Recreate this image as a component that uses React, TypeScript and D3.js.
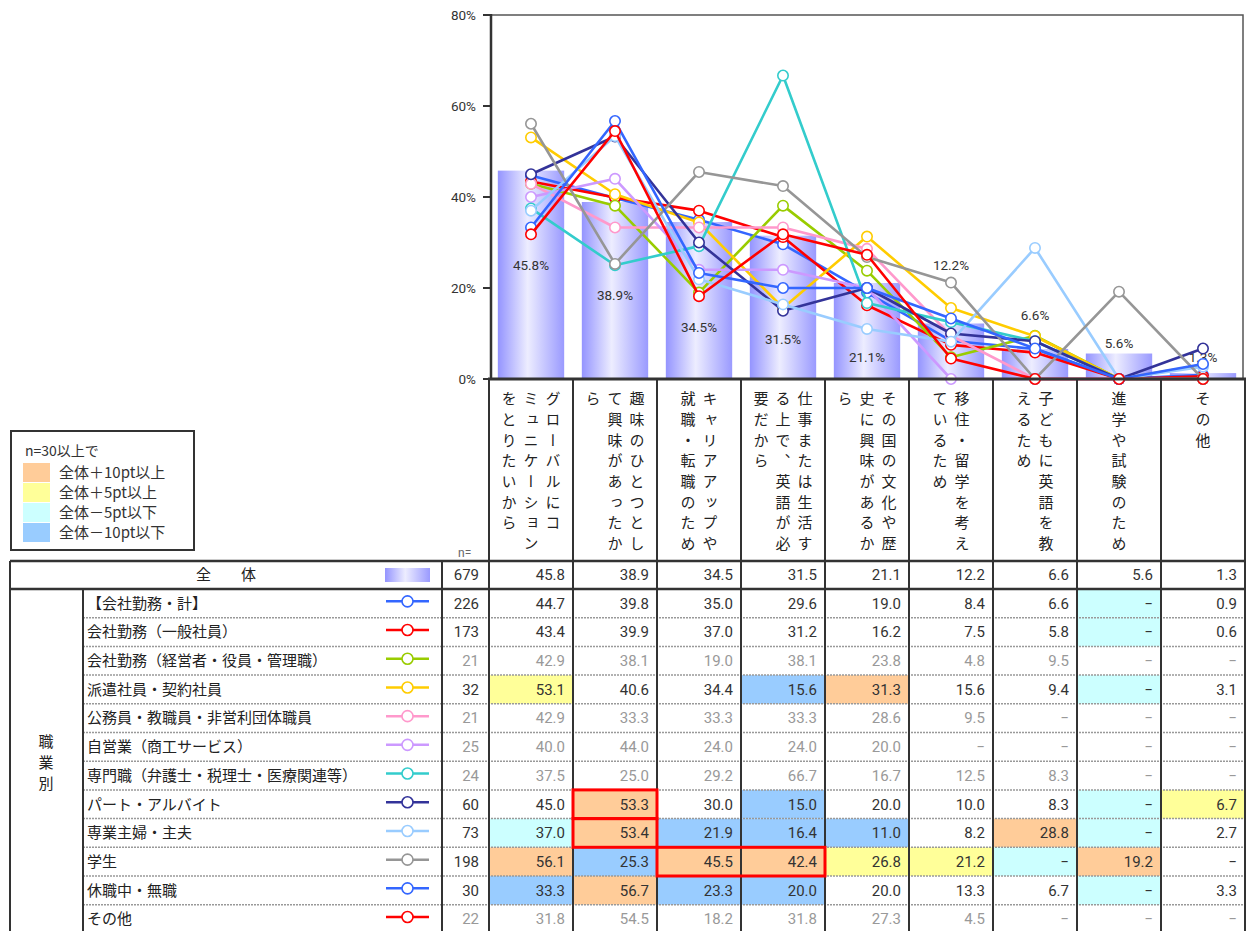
import React, { useEffect, useRef } from "react";
import * as d3 from "d3";

// categories (columns), each written vertically: columns listed right-to-left
const categoryLines = [
  ["グローバルにコ", "ミュニケーション", "をとりたいから"],
  ["趣味のひとつとし", "て興味があったか", "ら"],
  ["キャリアアップや", "就職・転職のため"],
  ["仕事または生活す", "る上で、英語が必", "要だから"],
  ["その国の文化や歴", "史に興味があるか", "ら"],
  ["移住・留学を考え", "ているため"],
  ["子どもに英語を教", "えるため"],
  ["進学や試験のため"],
  ["その他"],
];

const totalLabel = "全　　体";
const totalN = 679;
const totalValues = [45.8, 38.9, 34.5, 31.5, 21.1, 12.2, 6.6, 5.6, 1.3];

const groupNames = [
  "【会社勤務・計】",
  "会社勤務（一般社員）",
  "会社勤務（経営者・役員・管理職）",
  "派遣社員・契約社員",
  "公務員・教職員・非営利団体職員",
  "自営業（商工サービス）",
  "専門職（弁護士・税理士・医療関連等）",
  "パート・アルバイト",
  "専業主婦・主夫",
  "学生",
  "休職中・無職",
  "その他",
];
const groupN = [226, 173, 21, 32, 21, 25, 24, 60, 73, 198, 30, 22];
const groupColors = [
  "#3366ff", "#ff0000", "#99cc00", "#ffcc00", "#ff99cc", "#cc99ff",
  "#33cccc", "#333399", "#99ccff", "#969696", "#3366ff", "#ff0000",
];
const groupValues = [
  [44.7, 39.8, 35.0, 29.6, 19.0, 8.4, 6.6, 0, 0.9],
  [43.4, 39.9, 37.0, 31.2, 16.2, 7.5, 5.8, 0, 0.6],
  [42.9, 38.1, 19.0, 38.1, 23.8, 4.8, 9.5, 0, 0],
  [53.1, 40.6, 34.4, 15.6, 31.3, 15.6, 9.4, 0, 3.1],
  [42.9, 33.3, 33.3, 33.3, 28.6, 9.5, 0, 0, 0],
  [40.0, 44.0, 24.0, 24.0, 20.0, 0, 0, 0, 0],
  [37.5, 25.0, 29.2, 66.7, 16.7, 12.5, 8.3, 0, 0],
  [45.0, 53.3, 30.0, 15.0, 20.0, 10.0, 8.3, 0, 6.7],
  [37.0, 53.4, 21.9, 16.4, 11.0, 8.2, 28.8, 0, 2.7],
  [56.1, 25.3, 45.5, 42.4, 26.8, 21.2, 0, 19.2, 0],
  [33.3, 56.7, 23.3, 20.0, 20.0, 13.3, 6.7, 0, 3.3],
  [31.8, 54.5, 18.2, 31.8, 27.3, 4.5, 0, 0, 0],
];
const sectionLabel = "職業別";

const yTicks = [0, 20, 40, 60, 80];

const legendTitle = "n=30以上で";
const legendItems = ["全体＋10pt以上", "全体＋5pt以上", "全体－5pt以下", "全体－10pt以下"];
const legendColors = ["#ffcc99", "#ffff99", "#ccffff", "#99ccff"];

// red outlined cells: row index, column index, number of columns
const boxedCells = [
  { row: 7, col: 1, span: 1 },
  { row: 8, col: 1, span: 1 },
  { row: 9, col: 2, span: 2 },
];

// height (in % units) where each bar label sits
const barLabelAt = [25, 18.3, 11.4, 8.8, 4.8, 25, 14, 7.9, 4.8];

const JP = "'Noto Sans CJK JP', 'Noto Sans', sans-serif";
const NUM = "Roboto, 'Liberation Sans', sans-serif";

function App() {
  const ref = useRef(null);

  useEffect(() => {
    const svg = d3.select(ref.current);
    svg.selectAll("*").remove();

    const left = 489, right = 1245;
    const x = d3.scaleBand().domain(d3.range(9)).range([left, right]).paddingInner(0.21).paddingOuter(0.105);
    const colX = d3.scaleLinear().domain([0, 9]).range([left, right]);
    const y = d3.scaleLinear().domain([0, 80]).range([379, 15]);
    const cx = (i) => x(i) + x.bandwidth() / 2;

    const defs = svg.append("defs");
    const grad = defs.append("linearGradient").attr("id", "barGrad").attr("x1", "0").attr("x2", "1").attr("y1", "0").attr("y2", "0");
    grad.append("stop").attr("offset", "0").attr("stop-color", "#9494ff");
    grad.append("stop").attr("offset", "0.45").attr("stop-color", "#ededff");
    grad.append("stop").attr("offset", "1").attr("stop-color", "#9a9aff");

    // plot frame
    svg.append("path")
      .attr("d", `M${left + 2},${y(80)}H${1243}V${y(0)}`)
      .attr("fill", "none").attr("stroke", "#555").attr("stroke-width", 1.5);

    // bars
    svg.append("g").selectAll("rect").data(totalValues).enter().append("rect")
      .attr("x", (d, i) => x(i)).attr("width", x.bandwidth())
      .attr("y", (d) => y(d)).attr("height", (d) => y(0) - y(d))
      .attr("fill", "url(#barGrad)");

    svg.append("g").selectAll("text").data(totalValues).enter().append("text")
      .attr("x", (d, i) => cx(i)).attr("y", (d, i) => y(barLabelAt[i]))
      .attr("dy", "0.35em").attr("text-anchor", "middle")
      .attr("font-family", NUM).attr("font-size", 13.5).attr("fill", "#333")
      .text((d) => d.toFixed(1) + "%");

    // y axis
    const ya = svg.append("g");
    ya.append("line").attr("x1", left + 2).attr("x2", left + 2).attr("y1", y(80) - 1).attr("y2", y(0))
      .attr("stroke", "#333").attr("stroke-width", 2.5);
    yTicks.forEach((t) => {
      ya.append("line").attr("x1", left - 6).attr("x2", left + 2).attr("y1", y(t)).attr("y2", y(t))
        .attr("stroke", "#333").attr("stroke-width", 2);
      ya.append("text").attr("x", 476).attr("y", y(t)).attr("dy", "0.35em")
        .attr("text-anchor", "end").attr("font-family", NUM).attr("font-size", 13.5).attr("fill", "#333")
        .text(t + "%");
    });

    // lines
    const line = d3.line().x((d, i) => cx(i)).y((d) => y(d));
    groupValues.forEach((vals, g) => {
      const gg = svg.append("g");
      gg.append("path").attr("d", line(vals)).attr("fill", "none")
        .attr("stroke", groupColors[g]).attr("stroke-width", 2.6).attr("stroke-linejoin", "round");
      gg.selectAll("circle").data(vals).enter().append("circle")
        .attr("cx", (d, i) => cx(i)).attr("cy", (d) => y(d)).attr("r", 5.2)
        .attr("fill", "#fff").attr("stroke", groupColors[g]).attr("stroke-width", 1.6);
    });

    // ---------- table ----------
    const tableTop = 561, totalBottom = 589, rowH = 28.7;
    const rowY = d3.scaleBand().domain(d3.range(groupNames.length)).range([totalBottom, totalBottom + rowH * groupNames.length]);
    const t = svg.append("g");

    // cell highlight colours
    groupValues.forEach((vals, r) => {
      if (groupN[r] < 30) return;
      vals.forEach((v, c) => {
        const diff = v - totalValues[c];
        let fill = null;
        if (diff >= 10) fill = legendColors[0];
        else if (diff >= 5) fill = legendColors[1];
        else if (diff <= -10) fill = legendColors[3];
        else if (diff <= -5) fill = legendColors[2];
        if (fill) t.append("rect").attr("x", colX(c)).attr("y", rowY(r)).attr("width", colX(1) - colX(0)).attr("height", rowY.bandwidth()).attr("fill", fill);
      });
    });

    // header vertical texts
    categoryLines.forEach((cols, c) => {
      const center = (colX(c) + colX(c + 1)) / 2;
      const n = cols.length;
      cols.forEach((str, k) => {
        const xx = center + ((n - 1) / 2 - k) * 22;
        Array.from(str).forEach((ch, j) => {
          t.append("text").attr("x", xx).attr("y", 391 + j * 20.7)
            .attr("writing-mode", "vertical-rl")
            .attr("font-family", JP).attr("font-size", 15).attr("fill", "#222")
            .text(ch);
        });
      });
    });
    t.append("text").attr("x", 458).attr("y", 557).attr("font-family", NUM).attr("font-size", 12).attr("fill", "#666").text("n=");

    // total row
    const totalMid = (tableTop + totalBottom) / 2;
    t.append("text").attr("x", 226).attr("y", totalMid).attr("dy", "0.35em").attr("text-anchor", "middle")
      .attr("font-family", JP).attr("font-size", 15).attr("fill", "#222").text(totalLabel);
    t.append("rect").attr("x", 385).attr("y", totalMid - 7).attr("width", 45).attr("height", 14).attr("fill", "url(#barGrad)");
    t.append("text").attr("x", 479).attr("y", totalMid).attr("dy", "0.35em").attr("text-anchor", "end")
      .attr("font-family", NUM).attr("font-size", 15).attr("fill", "#333").text(totalN);
    totalValues.forEach((v, c) => {
      t.append("text").attr("x", colX(c + 1) - 8).attr("y", totalMid).attr("dy", "0.35em").attr("text-anchor", "end")
        .attr("font-family", NUM).attr("font-size", 15).attr("fill", "#333").text(v.toFixed(1));
    });

    // group rows
    groupNames.forEach((name, r) => {
      const mid = rowY(r) + rowY.bandwidth() / 2;
      const col = groupN[r] < 30 ? "#999" : "#333";
      t.append("text").attr("x", 87).attr("y", mid).attr("dy", "0.35em")
        .attr("font-family", JP).attr("font-size", 15).attr("fill", "#222").text(name);
      t.append("line").attr("x1", 386).attr("x2", 429).attr("y1", mid - 2).attr("y2", mid - 2)
        .attr("stroke", groupColors[r]).attr("stroke-width", 2.5);
      t.append("circle").attr("cx", 407.5).attr("cy", mid - 2).attr("r", 5.5)
        .attr("fill", "#fff").attr("stroke", groupColors[r]).attr("stroke-width", 1.6);
      t.append("text").attr("x", 479).attr("y", mid).attr("dy", "0.35em").attr("text-anchor", "end")
        .attr("font-family", NUM).attr("font-size", 15).attr("fill", col).text(groupN[r]);
      groupValues[r].forEach((v, c) => {
        t.append("text").attr("x", colX(c + 1) - 8).attr("y", mid).attr("dy", "0.35em").attr("text-anchor", "end")
          .attr("font-family", NUM).attr("font-size", 15).attr("fill", col).text(v === 0 ? "−" : v.toFixed(1));
      });
    });

    // section label
    const secTop = 742;
    Array.from(sectionLabel).forEach((ch, j) => {
      t.append("text").attr("x", 46).attr("y", secTop + j * 21).attr("dy", "0.35em").attr("text-anchor", "middle")
        .attr("font-family", JP).attr("font-size", 15).attr("fill", "#222").text(ch);
    });

    // dotted row separators
    for (let r = 1; r < groupNames.length; r++) {
      t.append("line").attr("x1", 83).attr("x2", right).attr("y1", rowY(r)).attr("y2", rowY(r))
        .attr("stroke", "#999").attr("stroke-width", 1.5).attr("stroke-dasharray", "2,1");
    }

    // solid grid lines
    const solid = (x1, y1, x2, y2, w = 2) =>
      t.append("line").attr("x1", x1).attr("y1", y1).attr("x2", x2).attr("y2", y2).attr("stroke", "#333").attr("stroke-width", w);
    for (let c = 0; c <= 9; c++) solid(colX(c), y(0), colX(c), 931);
    solid(left - 1, y(0), right + 1, y(0), 3);
    solid(10, tableTop, right + 1, tableTop, 2.5);
    solid(10, totalBottom, right + 1, totalBottom, 2.5);
    solid(10, tableTop, 10, 931);
    solid(83, totalBottom, 83, 931);
    solid(442, tableTop, 442, 931);

    // red boxes
    boxedCells.forEach((b) => {
      t.append("rect").attr("x", colX(b.col)).attr("y", rowY(b.row))
        .attr("width", colX(b.col + b.span) - colX(b.col)).attr("height", rowY.bandwidth())
        .attr("fill", "none").attr("stroke", "#ff0000").attr("stroke-width", 3);
    });

    // legend
    const lg = svg.append("g");
    lg.append("rect").attr("x", 11).attr("y", 431).attr("width", 183).attr("height", 119)
      .attr("fill", "#fff").attr("stroke", "#333").attr("stroke-width", 2);
    lg.append("text").attr("x", 25).attr("y", 451).attr("dy", "0.35em")
      .attr("font-family", JP).attr("font-size", 14).attr("fill", "#333").text(legendTitle);
    legendItems.forEach((s, i) => {
      const yy = 463 + i * 20;
      lg.append("rect").attr("x", 23).attr("y", yy).attr("width", 27).attr("height", 19).attr("fill", legendColors[i]);
      lg.append("text").attr("x", 59).attr("y", yy + 10).attr("dy", "0.35em")
        .attr("font-family", JP).attr("font-size", 15).attr("fill", "#333").text(s);
    });
  }, []);

  return (
    <svg ref={ref} width={1248} height={931}
      style={{ position: "absolute", left: 0, top: 0, background: "#fff" }} />
  );
}

export default App;
